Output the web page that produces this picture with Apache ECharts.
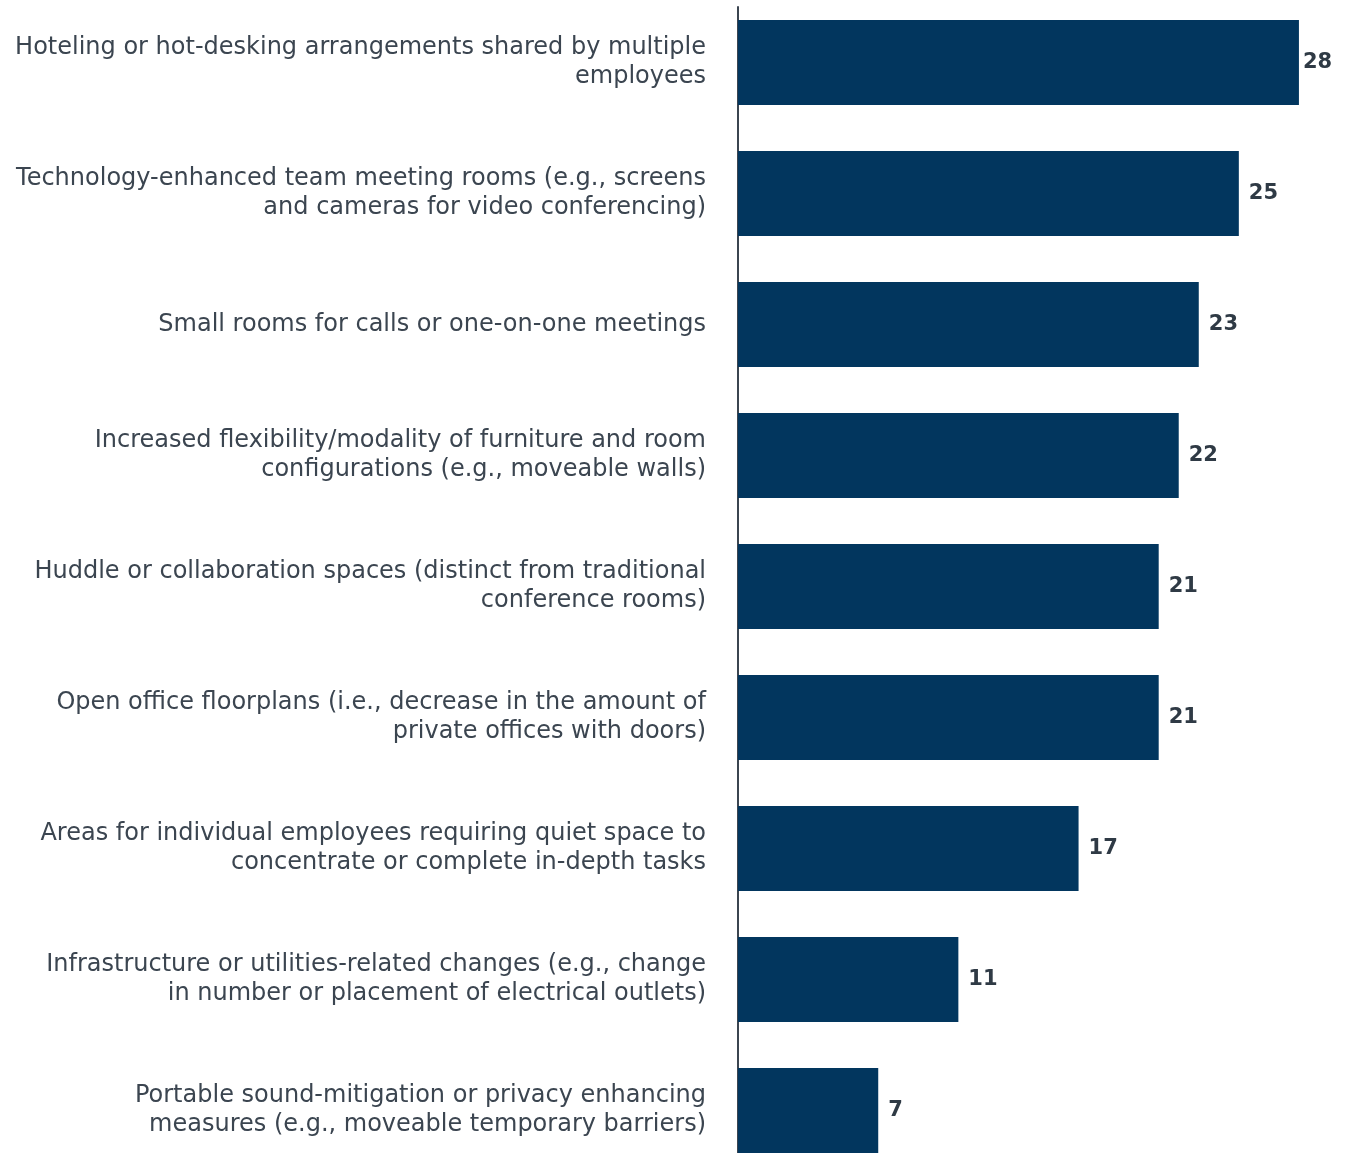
<!DOCTYPE html>
<html>
<head>
<meta charset="utf-8">
<script src="https://cdn.jsdelivr.net/npm/echarts@6/dist/echarts.min.js"></script>
<style>
  html, body { margin: 0; padding: 0; background: #fff; }
  #chart { width: 1347px; height: 1153px; }
</style>
</head>
<body>
<div id="chart"></div>
<script>
// Workplace changes, share of respondents (%)
const categories = [
  "Hoteling or hot-desking arrangements shared by multiple\nemployees",
  "Technology-enhanced team meeting rooms (e.g., screens\nand cameras for video conferencing)",
  "Small rooms for calls or one-on-one meetings",
  "Increased flexibility/modality of furniture and room\nconfigurations (e.g., moveable walls)",
  "Huddle or collaboration spaces (distinct from traditional\nconference rooms)",
  "Open office floorplans (i.e., decrease in the amount of\nprivate offices with doors)",
  "Areas for individual employees requiring quiet space to\nconcentrate or complete in-depth tasks",
  "Infrastructure or utilities-related changes (e.g., change\nin number or placement of electrical outlets)",
  "Portable sound-mitigation or privacy enhancing\nmeasures (e.g., moveable temporary barriers)"
];
const values = [28, 25, 23, 22, 21, 21, 17, 11, 7];

const FONT = '"DejaVu Sans", Verdana, sans-serif';

const chart = echarts.init(document.getElementById('chart'), null, { renderer: 'canvas' });

const seriesData = values.map((v, i) => {
  const item = { value: v };
  if (i === 0) item.label = { distance: 4 };
  return item;
});

chart.setOption({
  animation: false,
  grid: [
    { left: 738, width: 601, top: -3, height: 1179, containLabel: false, outerBoundsMode: 'none' },
    { left: 738, width: 601, top: 7, bottom: 0, containLabel: false, outerBoundsMode: 'none' }
  ],
  xAxis: [
    { gridIndex: 0, type: 'value', min: 0, max: 30, show: false },
    { gridIndex: 1, type: 'value', min: 0, max: 30, show: false }
  ],
  yAxis: [
    {
      gridIndex: 0,
      type: 'category',
      inverse: true,
      data: categories,
      axisLine: { show: false },
      axisTick: { show: false },
      axisLabel: {
        margin: 32,
        fontFamily: FONT,
        fontSize: 24,
        lineHeight: 29,
        color: '#3b4550',
        align: 'right',
        hideOverlap: false
      }
    },
    {
      gridIndex: 1,
      type: 'value',
      axisLine: { show: true, lineStyle: { color: '#3b4550', width: 2 } },
      axisTick: { show: false },
      axisLabel: { show: false },
      splitLine: { show: false }
    }
  ],
  series: [{
    type: 'bar',
    xAxisIndex: 0,
    yAxisIndex: 0,
    data: seriesData,
    barWidth: 85,
    itemStyle: { color: '#02365e' },
    label: {
      show: true,
      position: 'right',
      distance: 10,
      fontFamily: FONT,
      fontWeight: 'bold',
      fontSize: 21,
      color: '#2f3a45'
    }
  }]
});
</script>
</body>
</html>
